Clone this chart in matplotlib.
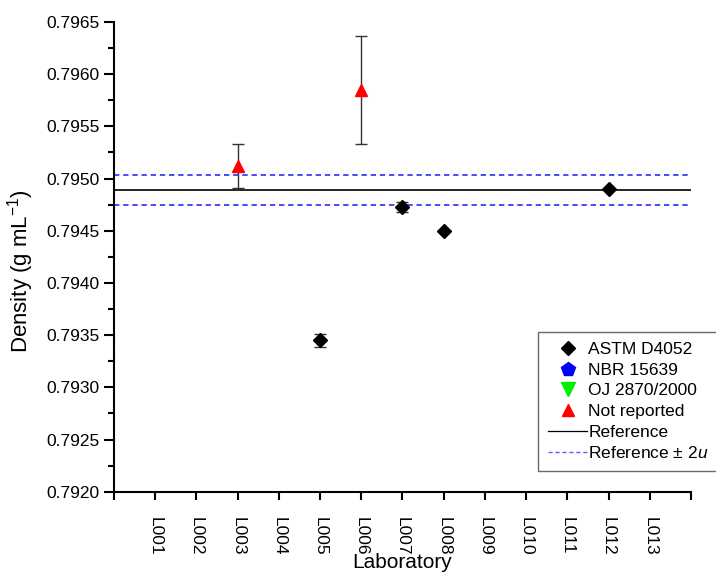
import matplotlib
matplotlib.use("Agg")
import matplotlib.pyplot as plt
from matplotlib.ticker import MultipleLocator, FormatStrFormatter
from matplotlib.lines import Line2D

plt.rcParams.update({
    "font.family": "Liberation Sans",
    "mathtext.fontset": "custom",
    "mathtext.rm": "Liberation Sans",
    "mathtext.it": "Liberation Sans:italic",
})

# Laboratories on the x axis (positions 1..13)
labs = ["L001", "L002", "L003", "L004", "L005", "L006", "L007",
        "L008", "L009", "L010", "L011", "L012", "L013"]

# ASTM D4052 results
astm_lab = [5, 7, 8, 12]
astm_val = [0.79345, 0.79473, 0.79450, 0.79490]
astm_err = [0.00006, 0.00005, 0.0, 0.0]

# Method not reported
nr_lab = [3, 6]
nr_val = [0.79512, 0.79585]
nr_err = [0.00021, 0.00052]

# Reference value and expanded uncertainty
ref_val = 0.79489
ref_2u = 0.000145

fig = plt.figure(figsize=(7.16, 5.73), dpi=100)
ax = fig.add_axes([0.1592, 0.1419, 0.8059, 0.8197])

x_end = 14
ax.plot([0, x_end], [ref_val, ref_val], color="black", lw=1.2, zorder=1)
for s in (1, -1):
    ax.plot([0, x_end], [ref_val + s * ref_2u] * 2, color="#1a1aff",
            lw=1.1, ls=(0, (3.5, 2.5)), zorder=1)

ax.errorbar(astm_lab, astm_val, yerr=astm_err, fmt="D", color="black",
            ms=7.5, ecolor="#333333", elinewidth=1, capsize=4, capthick=1,
            zorder=3)
ax.errorbar(nr_lab, nr_val, yerr=nr_err, fmt="^", color="red",
            ms=9, ecolor="#333333", elinewidth=1, capsize=4, capthick=1,
            zorder=3)

ax.set_xlim(0, x_end)
ax.set_ylim(0.7920, 0.7965)
ax.set_xticks(range(0, 15))
ax.set_xticklabels([""] + labs + [""], rotation=-90, va="top")
ax.yaxis.set_major_locator(MultipleLocator(0.0005))
ax.yaxis.set_minor_locator(MultipleLocator(0.00025))
ax.yaxis.set_major_formatter(FormatStrFormatter("%.4f"))

for side in ("top", "right"):
    ax.spines[side].set_visible(False)
for side in ("left", "bottom"):
    ax.spines[side].set_linewidth(1.5)
ax.tick_params(axis="both", which="major", direction="out", width=1.5,
               labelsize=12.5)
ax.tick_params(axis="y", which="major", length=7)
ax.tick_params(axis="y", which="minor", direction="out", length=4, width=1.5)
ax.tick_params(axis="x", length=5.5, pad=13)

fig.text(402.5 / 716, 0.0095, "Laboratory", fontsize=15,
         ha="center", va="baseline")
fig.text(21 / 716, 0.527, "Density (g mL$^{-1}$)", fontsize=16,
         rotation=90, ha="center", va="center")

handles = [
    Line2D([], [], ls="none", marker="D", color="black", ms=7),
    Line2D([], [], ls="none", marker="p", color="blue", ms=10),
    Line2D([], [], ls="none", marker="v", color="#00ee00", ms=10),
    Line2D([], [], ls="none", marker="^", color="red", ms=9),
    Line2D([], [], color="black", lw=0.9),
    Line2D([], [], color="#6060ff", lw=1, ls=(0, (3, 2))),
]
labels = ["ASTM D4052", "NBR 15639", "OJ 2870/2000", "Not reported",
          "Reference", "Reference \u00b1 2$\\mathit{u}$"]
leg = fig.legend(handles, labels, loc="lower left",
                 bbox_to_anchor=(0.7514, 0.178), fontsize=12.5,
                 frameon=True, fancybox=False, labelspacing=0.32,
                 handlelength=2.3, handletextpad=0.05, borderpad=0.55,
                 borderaxespad=0)
leg.get_frame().set_edgecolor("#444444")
leg.get_frame().set_linewidth(1)

fig.savefig("out.png", dpi=100)
